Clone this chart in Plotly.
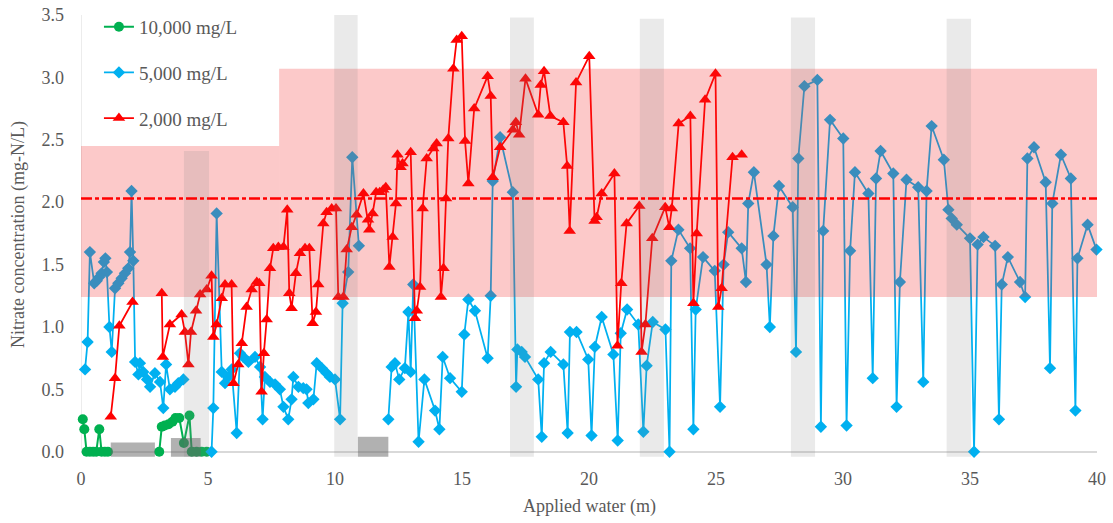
import plotly.graph_objects as go

# ---------------- data ----------------
green_x = [0.07, 0.13, 0.22, 0.35, 0.48, 0.60, 0.72, 0.81, 0.94, 1.06, None,
           3.08, 3.18, 3.30, 3.45, 3.60, 3.72, 3.87, 4.05, 4.27, 4.36, 4.55, 4.75, 4.95]
green_y = [0.26, 0.18, 0.00, 0.00, 0.00, 0.00, 0.18, 0.00, 0.00, 0.00, None,
           0.00, 0.20, 0.21, 0.22, 0.24, 0.27, 0.27, 0.07, 0.29, 0.00, 0.00, 0.00, 0.00]

blue_x = [0.16, 0.26, 0.35, 0.52, 0.62, 0.72, 0.81, 0.90, 0.96, 1.02, 1.12, 1.21, 1.34, 1.47, 1.60,
          1.73, 1.86, 1.93, 1.99, 2.06, 2.13, 2.26, 2.32, 2.45, 2.60, 2.72, 2.91, 3.11, 3.24, 3.35,
          3.50, 3.70, 3.83, 4.03, None, 5.14, 5.21, 5.34, 5.54, 5.67, 5.80, 5.93, 6.13, 6.26, 6.39, 6.59,
          6.85, 7.05, 7.15, 7.24, 7.44, 7.64, 7.83, 7.97, 8.16, 8.29, 8.36, 8.56, 8.75, 8.88, 8.95,
          9.15, 9.28, 9.48, 9.67, 9.80, 10.00, 10.20, 10.30, 10.52, 10.68, 10.94, None, 12.10, 12.23, 12.36, 12.53,
          12.75, 12.89, 12.98, 13.08, 13.29, 13.52, 13.94, 14.11, 14.24, 14.53, 14.99, 15.09, 15.25, 15.51, 16.01,
          16.13, 16.21, 16.50, 17.00, 17.13, 17.18, 17.35, 17.48, 18.00, 18.14, 18.23, 18.49, 18.99, 19.16, 19.25,
          19.51, 19.97, 20.10, 20.23, 20.50, 20.96, 21.13, 21.25, 21.50, 21.94, 22.14, 22.27, 22.51, 23.01, 23.17,
          23.24, 23.52, 23.98, 24.11, 24.20, 24.49, 24.95, 25.16, 25.30, 25.48, 26.01, 26.18, 26.27, 26.49, 26.99,
          27.12, 27.26, 27.48, 28.02, 28.15, 28.24, 28.48, 28.99, 29.13, 29.22, 29.49, 30.01, 30.14, 30.28, 30.47,
          31.00, 31.17, 31.30, 31.48, 31.98, 32.11, 32.24, 32.50, 32.96, 33.16, 33.29, 33.49, 33.97, 34.15, 34.28,
          34.48, 35.00, 35.16, 35.30, 35.53, 35.99, 36.14, 36.25, 36.49, 36.97, 37.17, 37.26, 37.52, 37.98, 38.15,
          38.24, 38.58, 38.97, 39.15, 39.23, 39.63, 39.98]
blue_y = [0.66, 0.88, 1.60, 1.35, 1.37, 1.40, 1.43, 1.52, 1.55, 1.44, 1.00, 0.80, 1.31, 1.35, 1.39,
          1.43, 1.47, 1.60, 2.09, 1.53, 0.72, 0.62, 0.71, 0.64, 0.58, 0.52, 0.63, 0.56, 0.35, 0.70,
          0.50, 0.52, 0.55, 0.58, None, 0.00, 0.35, 1.91, 0.64, 0.55, 0.60, 0.66, 0.15, 0.79, 0.76, 0.72,
          0.76, 0.68, 0.26, 0.60, 0.56, 0.54, 0.50, 0.36, 0.26, 0.42, 0.60, 0.52, 0.51, 0.50, 0.39,
          0.42, 0.71, 0.67, 0.63, 0.60, 0.58, 0.26, 1.19, 1.44, 2.36, 1.65, None, 0.26, 0.68, 0.71, 0.58,
          0.67, 1.12, 0.64, 1.34, 0.08, 0.58, 0.33, 0.18, 0.76, 0.59, 0.48, 0.94, 1.22, 1.13, 0.75,
          1.25, 2.17, 2.52, 2.08, 0.52, 0.82, 0.80, 0.76, 0.58, 0.12, 0.71, 0.80, 0.70, 0.15, 0.96,
          0.96, 0.74, 0.13, 0.84, 1.08, 0.78, 0.09, 0.95, 1.14, 1.02, 0.16, 0.69, 1.04, 0.98, 0.00,
          1.53, 1.78, 1.63, 0.18, 1.14, 1.56, 1.45, 0.36, 1.50, 1.76, 1.63, 1.36, 1.99, 2.24, 1.50,
          1.00, 1.73, 2.13, 1.96, 0.80, 2.35, 2.93, 2.98, 0.20, 1.77, 2.66, 2.51, 0.21, 1.61, 2.24,
          2.07, 0.59, 2.19, 2.41, 2.23, 0.36, 1.36, 2.18, 2.12, 0.56, 2.09, 2.61, 2.34, 1.94, 1.87,
          1.82, 1.71, 0.00, 1.66, 1.72, 1.65, 0.26, 1.34, 1.56, 1.36, 1.24, 2.35, 2.44, 2.16, 0.67,
          1.99, 2.38, 2.19, 0.33, 1.55, 1.82, 1.62]

red_x = [1.17, 1.34, 1.51, 2.03, None, 3.18, 3.22, 3.50, 3.96, 4.09, 4.23, 4.33, 4.53, 4.69, 4.95, 5.14,
         5.21, 5.34, 5.54, 5.67, 5.93, 6.00, 6.19, 6.33, 6.52, 6.72, 6.92, 7.02, 7.11, 7.20, 7.31,
         7.44, 7.57, 7.77, 7.97, 8.12, 8.20, 8.29, 8.46, 8.62, 8.82, 8.99, 9.12, 9.25, 9.34, 9.54,
         9.67, 9.87, 10.04, 10.13, 10.33, 10.46, 10.66, 10.85, 11.12, 11.30, 11.35, 11.48, 11.62, 11.76, 11.90,
         12.00, 12.14, 12.27, 12.40, 12.46, 12.58, 12.66, 12.98, 13.15, 13.22, 13.35, 13.45, 13.61, 13.87, 14.00,
         14.17, 14.27, 14.37, 14.46, 14.66, 14.79, 14.99, 15.12, 15.25, 15.48, 16.01, 16.13, 16.21, 16.50, 17.00,
         17.12, 17.25, 17.50, 18.00, 18.10, 18.23, 18.48, 18.99, 19.14, 19.24, 19.49, 20.01, 20.22, 20.30, 20.50,
         21.00, 21.12, 21.27, 21.48, 21.98, 22.07, 22.22, 22.49, 23.00, 23.16, 23.26, 23.53, 23.99, 24.11, 24.24,
         24.57, 24.98, 25.09, 25.22, 25.65, 26.01]
red_y = [0.28, 0.59, 1.01, 1.20, None, 1.27, 0.76, 1.02, 1.10, 0.96, 0.70, 0.96, 1.13, 1.26, 1.30, 1.41,
         0.92, 1.02, 1.23, 1.34, 1.34, 0.55, 0.70, 0.87, 1.16, 1.30, 1.36, 1.35, 0.48, 0.79, 1.06,
         1.47, 1.63, 1.64, 1.64, 1.94, 1.27, 1.15, 1.43, 1.59, 1.63, 1.63, 1.03, 1.12, 1.34, 1.83,
         1.92, 1.95, 1.95, 1.24, 1.24, 1.62, 1.80, 1.90, 2.07, 1.86, 1.78, 1.91, 2.08, 2.08, 2.10,
         2.12, 1.48, 1.72, 1.99, 2.38, 2.28, 2.31, 2.40, 1.07, 1.13, 1.32, 1.95, 2.35, 2.43, 2.47,
         1.24, 1.47, 2.03, 2.51, 3.07, 3.30, 3.33, 2.49, 2.15, 2.75, 3.01, 2.85, 2.20, 2.44, 2.58,
         2.64, 2.54, 2.99, 2.70, 2.94, 3.05, 2.69, 2.64, 2.29, 1.77, 2.96, 3.17, 1.85, 1.88, 2.07,
         2.23, 0.85, 1.35, 1.83, 1.97, 0.80, 1.02, 1.71, 1.96, 1.80, 1.95, 2.63, 2.69, 1.19, 1.75,
         2.82, 3.03, 1.16, 1.31, 2.36, 2.38]

series_names = ["10,000 mg/L", "5,000 mg/L", "2,000 mg/L"]
x_ticks = [0, 5, 10, 15, 20, 25, 30, 35, 40]
y_ticks = [0.0, 0.5, 1.0, 1.5, 2.0, 2.5, 3.0, 3.5]
x_title = "Applied water (m)"
y_title = "Nitrate concentration (mg-N/L)"

# shaded ranges
pink_boxes = [(0, 7.8, 1.24, 2.45), (7.8, 40, 1.24, 3.07)]
gray_bars = [(4.05, 5.04, 2.41), (9.97, 10.89, 3.50), (16.89, 17.83, 3.48),
             (22.0, 22.95, 3.47), (27.95, 28.9, 3.48), (34.08, 35.04, 3.47)]
bottom_boxes = [(1.17, 2.91, 0.075), (3.54, 4.71, 0.11), (10.9, 12.1, 0.12)]
ref_level = 2.03

FONT = "Liberation Serif, Times New Roman, DejaVu Serif, serif"
TXT = "#595959"

fig = go.Figure()
fig.add_trace(go.Scatter(x=green_x, y=green_y, name=series_names[0], mode="lines+markers",
                         line=dict(color="#00b050", width=2),
                         marker=dict(symbol="circle", size=10, color="#00b050"),
                         cliponaxis=False, legendgroup="g1"))
fig.add_trace(go.Scatter(x=blue_x, y=blue_y, name=series_names[1], mode="lines+markers",
                         line=dict(color="#00b0f0", width=1.75),
                         marker=dict(symbol="diamond", size=9.5, color="#00b0f0"),
                         cliponaxis=False, legendgroup="g2"))
fig.add_trace(go.Scatter(x=red_x, y=red_y, name=series_names[2], mode="lines+markers",
                         line=dict(color="#ff0000", width=1.75),
                         marker=dict(symbol="triangle-up", size=11, color="#ff0000"),
                         cliponaxis=False, legendgroup="g3"))

shapes = []
for x0, x1, y0, y1 in pink_boxes:
    shapes.append(dict(type="rect", xref="x", yref="y", x0=x0, x1=x1, y0=y0, y1=y1,
                       fillcolor="rgba(241,30,30,0.24)", line=dict(width=0), layer="above"))
for x0, x1, y1 in gray_bars:
    shapes.append(dict(type="rect", xref="x", yref="y", x0=x0, x1=x1, y0=-0.04, y1=y1,
                       fillcolor="rgba(128,128,128,0.17)", line=dict(width=0), layer="above"))
for x0, x1, y1 in bottom_boxes:
    shapes.append(dict(type="rect", xref="x", yref="y", x0=x0, x1=x1, y0=-0.04, y1=y1,
                       fillcolor="rgba(100,100,100,0.5)", line=dict(width=0), layer="above"))
shapes.append(dict(type="line", xref="x", yref="y", x0=0, x1=40, y0=ref_level, y1=ref_level,
                   line=dict(color="#ff0000", width=2.5, dash="11px,3px,4px,3px"), layer="above"))
shapes.append(dict(type="line", xref="x", yref="y", x0=0, x1=0, y0=0, y1=3.5,
                   line=dict(color="#d9d9d9", width=1), layer="below"))

annotations = [
    dict(text=x_title, xref="paper", yref="paper", x=0.5, y=(458 - 507) / 443,
         xanchor="center", yanchor="middle", showarrow=False,
         font=dict(family=FONT, size=18, color=TXT)),
    dict(text=y_title, xref="paper", yref="paper", x=(18 - 81) / 1016, y=(458 - 235) / 443,
         xanchor="center", yanchor="middle", showarrow=False, textangle=-90,
         font=dict(family=FONT, size=18, color=TXT)),
]

fig.update_layout(
    width=1113, height=523,
    margin=dict(l=81, r=16, t=15, b=523 - 458, autoexpand=False),
    paper_bgcolor="white", plot_bgcolor="white",
    font=dict(family=FONT, color=TXT, size=18),
    shapes=shapes,
    annotations=annotations,
    showlegend=True,
    legend=dict(x=0.0889, y=0.985, xref="container", yref="container",
                xanchor="left", yanchor="top",
                bgcolor="rgba(255,255,255,0)", font=dict(family=FONT, size=19, color=TXT),
                tracegroupgap=18, itemwidth=30),
    xaxis=dict(range=[0, 40], tickvals=x_ticks, showgrid=False, zeroline=False, showline=False,
               automargin=False,
               ticks="", tickfont=dict(family=FONT, size=18, color=TXT), ticklabelstandoff=8),
    yaxis=dict(range=[-0.05, 3.5], tickvals=y_ticks, tickformat=".1f", showgrid=False,
               automargin=False,
               zeroline=True, zerolinecolor="#d9d9d9", zerolinewidth=1.5, showline=False,
               ticks="", tickfont=dict(family=FONT, size=18, color=TXT), ticklabelstandoff=16),
)

fig.write_html("out.html")
